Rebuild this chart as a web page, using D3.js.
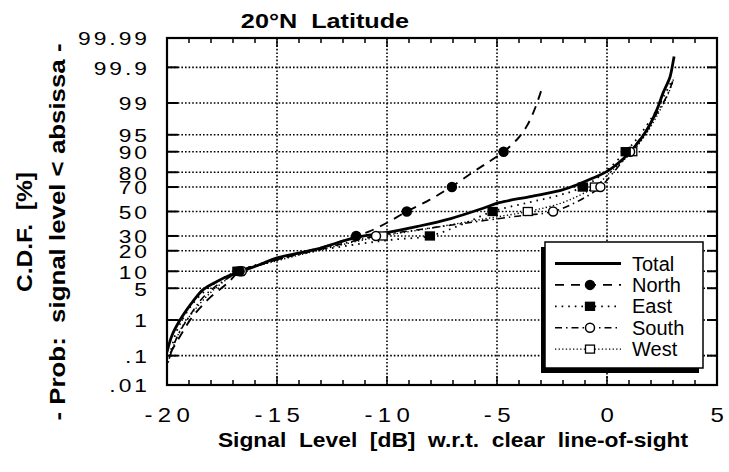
<!DOCTYPE html>
<html>
<head>
<meta charset="utf-8">
<script src="https://cdn.jsdelivr.net/npm/d3@7"></script>
<style>
  body { margin: 0; background: #fff; }
  text { font-family: "Liberation Sans", Arial, Helvetica, sans-serif; fill: #000; white-space: pre; }
</style>
</head>
<body>
<script>
// probability ticks (percent) and their labels
var probTicks = [0.01, 0.1, 1, 5, 10, 20, 30, 50, 70, 80, 90, 95, 99, 99.9, 99.99];
var probLabels = [".01", ".1", "1", "5", "10", "20", "30", "50", "70", "80", "90", "95", "99", "99.9", "99.99"];
var levelTicks = [-20, -15, -10, -5, 0, 5];

// series: signal level [dB] and cumulative probability [%]
var totalLevel = [-20.0, -19.77, -19.41, -19.09, -18.82, -18.36, -17.73, -17.27, -16.6, -15.77, -15.0, -13.2, -11.4, -10.2, -8.6, -7.1, -5.6, -4.9, -3.5, -2.1, -1.55, -0.77, 0, 0.73, 1.18, 1.82, 2.27, 2.55, 2.86, 3.0, 3.05];
var totalProb  = [0.13, 0.4, 1.0, 1.8, 2.7, 4.7, 6.7, 8.2, 10, 12.8, 16, 21, 29, 32, 37.5, 44, 53, 57.5, 62.5, 67.5, 70.5, 75.5, 80.5, 87, 91, 96, 98.55, 99.45, 99.8, 99.93, 99.955];

var northLevel = [-19.85, -19.5, -19.2, -18.9, -18.4, -18.0, -17.2, -16.7, -15.5, -14.0, -12.5, -11.4, -10.8, -10.0, -9.1, -8.05, -7.05, -6.1, -5.6, -4.7, -4.1, -3.65, -3.35, -3.12, -2.95];
var northProb  = [0.12, 0.3, 0.6, 1.1, 2.2, 3.4, 6.5, 10, 13.5, 18.5, 24, 30, 33.5, 40.5, 50, 60, 70.5, 80, 84, 90, 93.8, 96.6, 98.3, 99.2, 99.6];

var eastLevel = [-19.95, -19.6, -19.15, -18.6, -17.8, -16.8, -15.3, -13.4, -11.2, -9.6, -8.05, -6.6, -5.2, -3.6, -2.2, -1.1, -0.2, 0.85, 1.5, 2.15, 2.6, 2.95];
var eastProb  = [0.06, 0.45, 1.4, 3.2, 6.3, 10, 14.5, 19.5, 24.5, 27.5, 30, 39, 50, 57.5, 63.5, 70, 79, 90, 95, 98.2, 99.35, 99.75];

var southLevel = [-19.9, -19.55, -19.0, -18.3, -17.4, -16.6, -15.0, -13.0, -11.6, -10.5, -8.5, -6.5, -4.3, -2.45, -1.5, -0.8, -0.3, 0.3, 1.05, 1.6, 2.2, 2.7, 3.0];
var southProb  = [0.08, 0.35, 1.2, 3.5, 7, 10, 15, 21, 26, 30, 35, 40, 45.5, 50, 57, 64, 70, 80, 90, 94.8, 98, 99.3, 99.75];

var westLevel = [-19.85, -19.4, -18.8, -18.1, -17.3, -16.7, -15.2, -13.2, -11.4, -10.2, -8.2, -5.8, -3.6, -2.1, -1.2, -0.55, 0.15, 1.15, 1.75, 2.35, 2.8, 3.05];
var westProb  = [0.1, 0.55, 1.6, 3.8, 7.2, 10, 14, 20, 26, 30, 35.5, 43, 50, 57, 64, 70, 80, 90, 95, 98.3, 99.45, 99.8];

// marker points (decile levels)
var markProb   = [10, 30, 50, 70, 90];
var northMarks = [-16.7, -11.4, -9.1, -7.05, -4.7];
var eastMarks  = [-16.8, -8.05, -5.2, -1.1, 0.85];
var southMarks = [-16.6, -10.5, -2.45, -0.3, 1.05];
var westMarks  = [-16.7, -10.2, -3.6, -0.55, 1.15];

var legendNames = ["Total", "North", "East", "South", "West"];

// inverse normal cdf (Acklam) for the probability axis
function probit(p) {
  var a = [-3.969683028665376e+01, 2.209460984245205e+02, -2.759285104469687e+02, 1.383577518672690e+02, -3.066479806614716e+01, 2.506628277459239e+00];
  var b = [-5.447609879822406e+01, 1.615858368580409e+02, -1.556989798598866e+02, 6.680131188771972e+01, -1.328068155288572e+01];
  var c = [-7.784894002430293e-03, -3.223964580411365e-01, -2.400758277161838e+00, -2.549732539343734e+00, 4.374664141464968e+00, 2.938163982698783e+00];
  var d = [7.784695709041462e-03, 3.224671290700398e-01, 2.445134137142996e+00, 3.754408661907416e+00];
  var q, r;
  if (p < 0.02425) {
    q = Math.sqrt(-2 * Math.log(p));
    return (((((c[0]*q+c[1])*q+c[2])*q+c[3])*q+c[4])*q+c[5]) / ((((d[0]*q+d[1])*q+d[2])*q+d[3])*q+1);
  }
  if (p > 1 - 0.02425) {
    q = Math.sqrt(-2 * Math.log(1 - p));
    return -(((((c[0]*q+c[1])*q+c[2])*q+c[3])*q+c[4])*q+c[5]) / ((((d[0]*q+d[1])*q+d[2])*q+d[3])*q+1);
  }
  q = p - 0.5; r = q * q;
  return (((((a[0]*r+a[1])*r+a[2])*r+a[3])*r+a[4])*r+a[5])*q / (((((b[0]*r+b[1])*r+b[2])*r+b[3])*r+b[4])*r+1);
}

var width = 729, height = 472;
var margin = {left: 167, right: 12, top: 38, bottom: 87};
var plotW = width - margin.left - margin.right;
var plotH = height - margin.top - margin.bottom;

var xScale = d3.scaleLinear().domain([-20, 5]).range([0, plotW]);
var zScale = d3.scaleLinear().domain([probit(0.0001), probit(0.9999)]).range([plotH, 0]);
function yPos(pct) { return zScale(probit(pct / 100)); }

var svg = d3.select("body").append("svg")
  .attr("width", width)
  .attr("height", height);

var g = svg.append("g")
  .attr("transform", "translate(" + margin.left + "," + margin.top + ")");

// horizontal dotted grid + inward ticks on both sides
var innerProbs = probTicks.slice(1, -1);
g.selectAll(".hgrid").data(innerProbs).enter().append("line")
  .attr("x1", 0).attr("x2", plotW)
  .attr("y1", yPos).attr("y2", yPos)
  .attr("stroke", "#000").attr("stroke-width", 1.6)
  .attr("stroke-dasharray", "1.6,2");
g.selectAll(".ltick").data(innerProbs).enter().append("line")
  .attr("x1", 0).attr("x2", 11)
  .attr("y1", yPos).attr("y2", yPos)
  .attr("stroke", "#000").attr("stroke-width", 2);
g.selectAll(".rtick").data(innerProbs).enter().append("line")
  .attr("x1", plotW - 10).attr("x2", plotW)
  .attr("y1", yPos).attr("y2", yPos)
  .attr("stroke", "#000").attr("stroke-width", 2);

// vertical dotted grid
var innerLevels = levelTicks.slice(1, -1);
g.selectAll(".vgrid").data(innerLevels).enter().append("line")
  .attr("x1", xScale).attr("x2", xScale)
  .attr("y1", 0).attr("y2", plotH)
  .attr("stroke", "#000").attr("stroke-width", 1.6)
  .attr("stroke-dasharray", "1.6,2");

// minor and major x ticks, top and bottom
var minorLevels = d3.range(-19, 5, 1);
g.selectAll(".btick").data(minorLevels).enter().append("line")
  .attr("x1", xScale).attr("x2", xScale)
  .attr("y1", plotH).attr("y2", function(d) { return plotH - (d % 5 == 0 ? 9 : 5); })
  .attr("stroke", "#000").attr("stroke-width", 1.5);
g.selectAll(".ttick").data(minorLevels).enter().append("line")
  .attr("x1", xScale).attr("x2", xScale)
  .attr("y1", 0).attr("y2", function(d) { return d % 5 == 0 ? 9 : 5; })
  .attr("stroke", "#000").attr("stroke-width", 1.5);

// x axis labels
var xAxis = d3.axisBottom(xScale)
  .tickValues(levelTicks)
  .tickSize(0)
  .tickPadding(0)
  .tickFormat(function(d) { return d < 0 ? "-" + (-d) : d; });
var xg = g.append("g")
  .attr("transform", "translate(0," + plotH + ")")
  .call(xAxis);
xg.select(".domain").remove();
xg.selectAll("text")
  .attr("y", 37).attr("dy", null)
  .attr("dx", 2)
  .style("font-size", "20px")
  .style("letter-spacing", "4.5px")
  .attr("transform", "scale(1.2,1)");

// y axis labels
var yAxis = d3.axisLeft(zScale)
  .tickValues(probTicks.map(function(p) { return probit(p / 100); }))
  .tickSize(0)
  .tickFormat(function(d, i) { return probLabels[i]; });
var yg = g.append("g").call(yAxis);
yg.select(".domain").remove();
yg.selectAll("text")
  .attr("x", -17 / 1.2)
  .attr("dy", "0.36em")
  .style("font-size", "19px")
  .style("letter-spacing", "2.5px")
  .attr("transform", "scale(1.2,1)");

// line generator
var line = d3.line()
  .x(function(d) { return xScale(d[0]); })
  .y(function(d) { return yPos(d[1]); })
  .curve(d3.curveCatmullRom.alpha(0.5));

function pairs(lv, pr) { return lv.map(function(v, i) { return [v, pr[i]]; }); }

svg.append("clipPath").attr("id", "clip")
  .append("rect").attr("width", plotW).attr("height", plotH);
var curves = g.append("g").attr("clip-path", "url(#clip)");

var styles = [
  {lv: westLevel,  pr: westProb,  dash: "1.3,2.3",     w: 1.4},
  {lv: southLevel, pr: southProb, dash: "7,4,1.5,4",   w: 1.6},
  {lv: eastLevel,  pr: eastProb,  dash: "1.6,5",       w: 1.8},
  {lv: northLevel, pr: northProb, dash: "9,7",         w: 1.9},
  {lv: totalLevel, pr: totalProb, dash: null,          w: 2.8}
];
styles.forEach(function(s) {
  curves.append("path")
    .datum(pairs(s.lv, s.pr))
    .attr("fill", "none")
    .attr("stroke", "#000")
    .attr("stroke-width", s.w)
    .attr("stroke-dasharray", s.dash)
    .attr("d", line);
});

// markers
function drawMarkers(levels, kind) {
  var pts = pairs(levels, markProb);
  if (kind == "dot" || kind == "ring") {
    g.selectAll(null).data(pts).enter().append("circle")
      .attr("cx", function(d) { return xScale(d[0]); })
      .attr("cy", function(d) { return yPos(d[1]); })
      .attr("r", 4.5)
      .attr("fill", kind == "dot" ? "#000" : "#fff")
      .attr("stroke", "#000").attr("stroke-width", 1.5);
  } else {
    g.selectAll(null).data(pts).enter().append("rect")
      .attr("x", function(d) { return xScale(d[0]) - 4.5; })
      .attr("y", function(d) { return yPos(d[1]) - 4; })
      .attr("width", 9).attr("height", 8)
      .attr("fill", kind == "sq" ? "#000" : "#fff")
      .attr("stroke", "#000").attr("stroke-width", 1.3);
  }
}
drawMarkers(westMarks, "osq");
drawMarkers(southMarks, "ring");
drawMarkers(eastMarks, "sq");
drawMarkers(northMarks, "dot");

// frame
g.append("rect")
  .attr("width", plotW).attr("height", plotH)
  .attr("fill", "none").attr("stroke", "#000").attr("stroke-width", 2.2);

// legend
var lg = svg.append("g").attr("transform", "translate(545,242)");
lg.append("rect").attr("x", -4).attr("y", 5).attr("width", 158).attr("height", 126).attr("fill", "#000");
lg.append("rect").attr("width", 158).attr("height", 126)
  .attr("fill", "#fff").attr("stroke", "#000").attr("stroke-width", 1.5);
var legDash = [null, "9,7", "1.6,5", "7,4,1.5,4", "1.3,2.3"];
var legW = [2.8, 1.9, 1.8, 1.6, 1.4];
var legKind = [null, "dot", "sq", "ring", "osq"];
legendNames.forEach(function(name, i) {
  var yy = 21.5 + i * 21.4;
  lg.append("line")
    .attr("x1", 10).attr("x2", 76).attr("y1", yy).attr("y2", yy)
    .attr("stroke", "#000").attr("stroke-width", legW[i])
    .attr("stroke-dasharray", legDash[i]);
  if (legKind[i] == "dot" || legKind[i] == "ring") {
    lg.append("circle").attr("cx", 45).attr("cy", yy).attr("r", 4.5)
      .attr("fill", legKind[i] == "dot" ? "#000" : "#fff")
      .attr("stroke", "#000").attr("stroke-width", 1.5);
  } else if (legKind[i]) {
    lg.append("rect").attr("x", 40.5).attr("y", yy - 4).attr("width", 9).attr("height", 8)
      .attr("fill", legKind[i] == "sq" ? "#000" : "#fff")
      .attr("stroke", "#000").attr("stroke-width", 1.3);
  }
  lg.append("text").attr("x", 87).attr("y", yy + 7)
    .style("font-size", "20px")
    .text(name);
});

// stretched text helper
function label(x, y, str, size, k, rot) {
  var t = svg.append("g")
    .attr("transform", "translate(" + x + "," + y + ") scale(" + k + ",1)" + (rot ? " rotate(-90)" : ""))
    .append("text")
    .attr("text-anchor", "middle")
    .style("font-size", size + "px")
    .style("font-weight", "bold")
    .text(str);
  return t;
}

label(325, 28, "20\u00B0N  Latitude", 21, 1.2);
label(453, 447, "Signal  Level  [dB]  w.r.t.  clear  line-of-sight", 20, 1.14);
label(32, 232, "C.D.F.  [%]", 19, 1.2, true)
  .attr("textLength", 120).attr("lengthAdjust", "spacingAndGlyphs");
label(65, 232, "- Prob:  signal level < absissa -", 19, 1.2, true)
  .attr("textLength", 377).attr("lengthAdjust", "spacingAndGlyphs");
</script>
</body>
</html>
